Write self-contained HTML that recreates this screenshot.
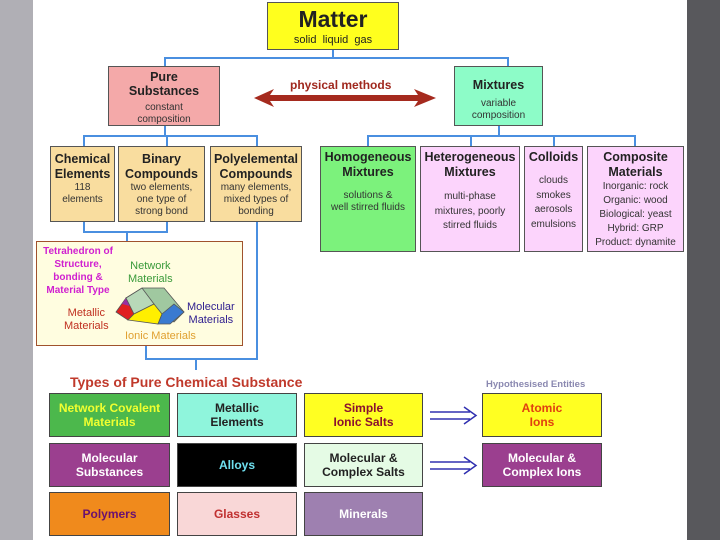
<!DOCTYPE html>
<html><head><meta charset="utf-8"><style>
*{margin:0;padding:0;box-sizing:border-box}
body{width:720px;height:540px;position:relative;background:#fff;font-family:"Liberation Sans",Arial,sans-serif;overflow:hidden}
.b{position:absolute;border:1.5px solid #555;text-align:center;color:#222;line-height:1.2}
.t{font-weight:bold;font-size:12.5px}
.s{font-size:10px;color:#333}
.l{position:absolute;background:#4a8fe0}
.g{position:absolute;border:1.5px solid #444;display:flex;align-items:center;justify-content:center;text-align:center;font-weight:bold;font-size:12px;line-height:1.2}
.abs{position:absolute}
</style></head><body>
<div class="abs" style="left:0;top:0;width:33px;height:540px;background:#b0afb5"></div>
<div class="abs" style="left:687px;top:0;width:33px;height:540px;background:#58585c"></div>

<div class="l" style="left:332px;top:50px;width:2px;height:9px"></div>
<div class="l" style="left:164px;top:57px;width:345px;height:2px"></div>
<div class="l" style="left:164px;top:57px;width:2px;height:9px"></div>
<div class="l" style="left:507px;top:57px;width:2px;height:9px"></div>
<div class="l" style="left:164px;top:126px;width:2px;height:10px"></div>
<div class="l" style="left:83px;top:135px;width:175px;height:2px"></div>
<div class="l" style="left:83px;top:135px;width:2px;height:11px"></div>
<div class="l" style="left:166px;top:135px;width:2px;height:11px"></div>
<div class="l" style="left:256px;top:135px;width:2px;height:11px"></div>
<div class="l" style="left:498px;top:126px;width:2px;height:10px"></div>
<div class="l" style="left:367px;top:135px;width:269px;height:2px"></div>
<div class="l" style="left:367px;top:135px;width:2px;height:11px"></div>
<div class="l" style="left:470px;top:135px;width:2px;height:11px"></div>
<div class="l" style="left:553px;top:135px;width:2px;height:11px"></div>
<div class="l" style="left:634px;top:135px;width:2px;height:11px"></div>
<div class="l" style="left:83px;top:222px;width:2px;height:10px"></div>
<div class="l" style="left:166px;top:222px;width:2px;height:10px"></div>
<div class="l" style="left:83px;top:231px;width:85px;height:2px"></div>
<div class="l" style="left:126px;top:231px;width:2px;height:10px"></div>
<div class="l" style="left:256px;top:222px;width:2px;height:137px"></div>
<div class="l" style="left:145px;top:346px;width:2px;height:13px"></div>
<div class="l" style="left:145px;top:358px;width:113px;height:2px"></div>
<div class="l" style="left:195px;top:358px;width:2px;height:12px"></div>

<div class="b" style="left:267px;top:2px;width:132px;height:48px;background:#ffff1e">
<div style="font-weight:bold;font-size:23px;margin-top:3px">Matter</div><div style="font-size:11px">solid&nbsp; liquid&nbsp; gas</div></div>

<div class="b" style="left:108px;top:66px;width:112px;height:60px;background:#f4a9a9;padding-top:4px">
<div class="t" style="line-height:1.1">Pure<br>Substances</div><div class="s" style="margin-top:3px">constant<br>composition</div></div>

<div class="b" style="left:454px;top:66px;width:89px;height:60px;background:#8dfcc8;padding-top:11px">
<div class="t">Mixtures</div><div class="s" style="margin-top:5px">variable<br>composition</div></div>

<div class="abs" style="left:290px;top:78px;font-weight:bold;font-size:12px;color:#a0281e">physical methods</div>
<svg class="abs" style="left:252px;top:88px" width="186" height="20"><polygon points="2,10 22,1 18,7 166,7 162,1 184,10 162,19 166,13 18,13 22,19" fill="#a52a1e"/></svg>

<div class="b" style="left:50px;top:146px;width:65px;height:76px;background:#f9dd9f;padding-top:5px"><div class="t">Chemical<br>Elements</div><div class="s">118<br>elements</div></div>
<div class="b" style="left:118px;top:146px;width:87px;height:76px;background:#f9dd9f;padding-top:5px"><div class="t">Binary<br>Compounds</div><div class="s">two elements,<br>one type of<br>strong bond</div></div>
<div class="b" style="left:210px;top:146px;width:92px;height:76px;background:#f9dd9f;padding-top:5px"><div class="t">Polyelemental<br>Compounds</div><div class="s">many elements,<br>mixed types of<br>bonding</div></div>

<div class="b" style="left:320px;top:146px;width:96px;height:106px;background:#7cf27c;padding-top:3px"><div class="t">Homogeneous<br>Mixtures</div><div class="s" style="margin-top:10px">solutions &amp;<br>well stirred fluids</div></div>
<div class="b" style="left:420px;top:146px;width:100px;height:106px;background:#fcd4fc;padding-top:3px"><div class="t">Heterogeneous<br>Mixtures</div><div class="s" style="margin-top:10px;line-height:1.45">multi-phase<br>mixtures, poorly<br>stirred fluids</div></div>
<div class="b" style="left:524px;top:146px;width:59px;height:106px;background:#fcd4fc;padding-top:3px"><div class="t">Colloids</div><div class="s" style="margin-top:9px;line-height:1.45">clouds<br>smokes<br>aerosols<br>emulsions</div></div>
<div class="b" style="left:587px;top:146px;width:97px;height:106px;background:#fcd4fc;padding-top:3px"><div class="t">Composite<br>Materials</div><div class="s" style="line-height:1.4">Inorganic: rock<br>Organic: wood<br>Biological: yeast<br>Hybrid: GRP<br>Product: dynamite</div></div>

<div class="abs" style="left:36px;top:241px;width:207px;height:105px;background:#fffde0;border:1.5px solid #a0522d"></div>
<div class="abs" style="left:38px;top:245px;font-weight:bold;font-size:10px;color:#d020d0;text-align:center;line-height:1.3;width:80px">Tetrahedron of<br>Structure,<br>bonding &amp;<br>Material Type</div>
<div class="abs" style="left:128px;top:260px;font-size:11px;color:#3a9a3a;text-align:center;line-height:1.2">Network<br>Materials</div>
<div class="abs" style="left:64px;top:307px;font-size:11px;color:#c03020;text-align:center;line-height:1.2">Metallic<br>Materials</div>
<div class="abs" style="left:187px;top:301px;font-size:11px;color:#302090;text-align:center;line-height:1.2">Molecular<br>Materials</div>
<div class="abs" style="left:125px;top:330px;font-size:11px;color:#e0a030">Ionic Materials</div>
<svg class="abs" style="left:114px;top:284px" width="72" height="46">
<polygon points="12,14 28,4 50,4 70,28 60,38 48,30" fill="#a0c8a0" stroke="#555" stroke-width="0.8"/>
<polygon points="2,28 12,14 20,30 14,36" fill="#e02020" stroke="#555" stroke-width="0.8"/>
<polygon points="8,20 12,14 16,22" fill="#9a30a0"/>
<polygon points="12,14 28,4 40,20 20,30" fill="#b8d8b8" stroke="#555" stroke-width="0.8"/>
<polygon points="20,30 40,20 48,30 44,40 14,36" fill="#ffef00" stroke="#555" stroke-width="0.8"/>
<polygon points="48,30 60,20 70,28 56,40 44,40" fill="#3a7ad0" stroke="#555" stroke-width="0.8"/>
</svg>

<div class="abs" style="left:70px;top:374px;font-weight:bold;font-size:14px;color:#c0392b">Types of Pure Chemical Substance</div>
<div class="abs" style="left:486px;top:379px;font-weight:bold;font-size:9.5px;color:#8a88b0">Hypothesised Entities</div>

<div class="g" style="left:49px;top:393px;width:121px;height:44px;background:#4cb84c;color:#f0ff30">Network Covalent<br>Materials</div>
<div class="g" style="left:177px;top:393px;width:120px;height:44px;background:#8ff5dc;color:#222">Metallic<br>Elements</div>
<div class="g" style="left:304px;top:393px;width:119px;height:44px;background:#ffff22;color:#8a1030">Simple<br>Ionic Salts</div>
<div class="g" style="left:482px;top:393px;width:120px;height:44px;background:#ffff22;color:#e04010">Atomic<br>Ions</div>
<div class="g" style="left:49px;top:443px;width:121px;height:44px;background:#9b3f8f;color:#fff">Molecular<br>Substances</div>
<div class="g" style="left:177px;top:443px;width:120px;height:44px;background:#000;color:#6fe0f0">Alloys</div>
<div class="g" style="left:304px;top:443px;width:119px;height:44px;background:#e5fbe5;color:#222">Molecular &amp;<br>Complex Salts</div>
<div class="g" style="left:482px;top:443px;width:120px;height:44px;background:#9b3f8f;color:#fff">Molecular &amp;<br>Complex Ions</div>
<div class="g" style="left:49px;top:492px;width:121px;height:44px;background:#f08a1c;color:#6a1070">Polymers</div>
<div class="g" style="left:177px;top:492px;width:120px;height:44px;background:#f9d7d7;color:#c03030">Glasses</div>
<div class="g" style="left:304px;top:492px;width:119px;height:44px;background:#9e80b0;color:#fff">Minerals</div>

<svg class="abs" style="left:430px;top:405px" width="48" height="22"><path d="M0,7H40M0,14H40M34,2L46,10.5L34,19" stroke="#3030b0" stroke-width="1.5" fill="none"/></svg>
<svg class="abs" style="left:430px;top:455px" width="48" height="22"><path d="M0,7H40M0,14H40M34,2L46,10.5L34,19" stroke="#3030b0" stroke-width="1.5" fill="none"/></svg>
</body></html>
